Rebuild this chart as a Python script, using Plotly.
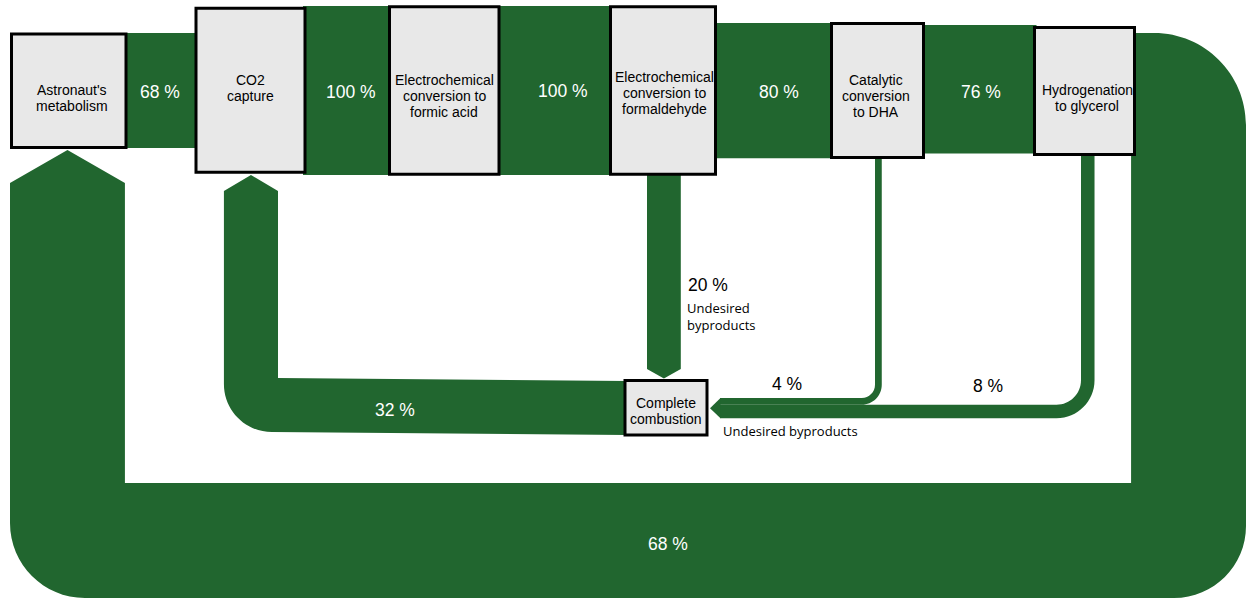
import plotly.graph_objects as go

# ---------------- data ----------------
node_labels = [
    ["Astronaut's", "metabolism"],
    ["CO2", "capture"],
    ["Electrochemical", "conversion to", "formic acid"],
    ["Electrochemical", "conversion to", "formaldehyde"],
    ["Catalytic", "conversion", "to DHA"],
    ["Hydrogenation", "to glycerol"],
    ["Complete", "combustion"],
]
main_chain_values = [68, 100, 100, 80, 76]   # astronaut->CO2, CO2->formic, formic->formaldehyde, formaldehyde->DHA, DHA->glycerol
return_value = 68                             # glycerol -> astronaut
byproduct_values = [20, 4, 8]                 # formaldehyde, DHA, glycerol -> combustion
recycle_value = 32                            # combustion -> CO2 capture
byproduct_label = "Undesired byproducts"

# ---------------- style / layout ----------------
W, H = 1247, 600
S = 1.69                      # px per percent
GREEN = "#21662F"
BOX_FILL = "#E8E8E8"
K = 0.5523

boxes = [
    (11.5, 34, 126, 147.5),
    (196, 8.3, 305, 172.3),
    (389.5, 6.7, 499, 174.3),
    (610.5, 6.7, 715.5, 174.3),
    (831.5, 23.5, 923.5, 157.5),
    (1034.5, 27.5, 1134.5, 154.5),
    (625, 380.5, 707, 435),
]
box_label_x = [72, 250, 444, 664, 876, 1087, 666]
box_label_first_y = [90, 80, 80, 77, 80, 90, 403]
LINE_GAP = 16

main_band_tops = [33, 6, 6, 23, 25]
main_label_pos = [(160, 92), (351, 92), (563, 91), (779, 92), (981, 92)]

shapes = []


def path_shape(d):
    return dict(type="path", path=d, xref="x", yref="y", fillcolor=GREEN,
                line=dict(width=0), layer="above")


def f(v):
    return f"{v:.2f}"

# main chain bands
for i, v in enumerate(main_chain_values):
    x0 = boxes[i][2] - 2
    x1 = boxes[i + 1][0] + 2
    y0 = main_band_tops[i]
    y1 = y0 + v * S
    shapes.append(path_shape(f"M{f(x0)},{f(y0)} L{f(x1)},{f(y0)} L{f(x1)},{f(y1)} L{f(x0)},{f(y1)} Z"))

# big return loop glycerol -> astronaut
w = return_value * S
top = 33
xo_r = 1246; xi_r = xo_r - w
yo_b = 598; yi_b = yo_b - w
xo_l = 10; xi_l = xo_l + w
R1, R2, R3 = 92, 72, 75
sx = 1128
tipx = (xo_l + xi_l) / 2
d = (f"M{f(sx)},{f(top)} L{f(xo_r-R1)},{f(top)} "
     f"C{f(xo_r-R1+K*R1)},{f(top)} {f(xo_r)},{f(top+R1-K*R1)} {f(xo_r)},{f(top+R1)} "
     f"L{f(xo_r)},{f(yo_b-R2)} "
     f"C{f(xo_r)},{f(yo_b-R2+K*R2)} {f(xo_r-R2+K*R2)},{f(yo_b)} {f(xo_r-R2)},{f(yo_b)} "
     f"L{f(xo_l+R3)},{f(yo_b)} "
     f"C{f(xo_l+R3-K*R3)},{f(yo_b)} {f(xo_l)},{f(yo_b-R3+K*R3)} {f(xo_l)},{f(yo_b-R3)} "
     f"L{f(xo_l)},183 L{f(tipx)},150 L{f(xi_l)},183 "
     f"L{f(xi_l)},{f(yi_b)} L{f(xi_r)},{f(yi_b)} L{f(xi_r)},156 L{f(sx)},156 Z")
shapes.append(path_shape(d))

# recycle 32 % combustion -> CO2 (slightly tilted, as in the reference)
w = recycle_value * S
yt_r = 381; yt_l = 378
x_i = 278; x_o = x_i - w
R = 48
tip = (x_o + x_i) / 2
d = (f"M627,{f(yt_r)} L{f(x_i)},{f(yt_l)} L{f(x_i)},191 L{f(tip)},175 L{f(x_o)},191 "
     f"L{f(x_o)},{f(yt_l+w-R)} C{f(x_o)},{f(yt_l+w-R+K*R)} {f(x_o+R-K*R)},{f(yt_l+w)} {f(x_o+R)},{f(yt_l+w)} "
     f"L627,{f(yt_r+w)} Z")
shapes.append(path_shape(d))

# 20 % formaldehyde -> combustion (vertical with arrow)
w = byproduct_values[0] * S
x0 = 647; x1 = x0 + w
d = (f"M{f(x0)},172 L{f(x1)},172 L{f(x1)},369 L{f((x0+x1)/2)},378.5 L{f(x0)},369 Z")
shapes.append(path_shape(d))

# 4 % and 8 % bands into combustion
arrow_x = 720
band_top = 398
side_x = [875, 1081]
side_top = [157, 153]
radii = [20, 38]
yt = band_top
for v, xl, ytop, R in zip(byproduct_values[1:], side_x, side_top, radii):
    w = v * S
    xr = xl + w
    yb = yt + w
    r = R - w
    d = (f"M{f(xl)},{f(ytop)} L{f(xl)},{f(yt-r)} "
         f"C{f(xl)},{f(yt-r+K*r)} {f(xl-r+K*r)},{f(yt)} {f(xl-r)},{f(yt)} "
         f"L{arrow_x},{f(yt)} L{arrow_x},{f(yb)} L{f(xr-R)},{f(yb)} "
         f"C{f(xr-R+K*R)},{f(yb)} {f(xr)},{f(yb-R+K*R)} {f(xr)},{f(yb-R)} "
         f"L{f(xr)},{f(ytop)} Z")
    shapes.append(path_shape(d))
    yt = yb
comb_w = sum(byproduct_values[1:]) * S
shapes.append(path_shape(
    f"M{arrow_x+0.5},{f(band_top)} L710,{f(band_top+comb_w/2)} L{arrow_x+0.5},{f(band_top+comb_w)} Z"))

# boxes on top
for (x0, y0, x1, y1) in boxes:
    shapes.append(dict(type="rect", xref="x", yref="y", x0=x0, y0=y0, x1=x1, y1=y1,
                       fillcolor=BOX_FILL, line=dict(color="black", width=3), layer="above"))

annotations = []
for lines, x, y0 in zip(node_labels, box_label_x, box_label_first_y):
    for j, line in enumerate(lines):
        annotations.append(dict(x=x, y=y0 + j * LINE_GAP, xref="x", yref="y", text=line, showarrow=False,
                                font=dict(family="Liberation Sans, Arial", size=14, color="black"),
                                xanchor="center", yanchor="middle", align="center"))

for v, (x, y) in zip(main_chain_values, main_label_pos):
    annotations.append(dict(x=x, y=y, xref="x", yref="y", text=f"{v} %", showarrow=False,
                            font=dict(family="Liberation Sans, Arial", size=17.5, color="white"),
                            xanchor="center", yanchor="middle"))

annotations.append(dict(x=668, y=544, xref="x", yref="y", text=f"{return_value} %", showarrow=False,
                        font=dict(family="Liberation Sans, Arial", size=17.5, color="white"),
                        xanchor="center", yanchor="middle"))
annotations.append(dict(x=395, y=410, xref="x", yref="y", text=f"{recycle_value} %", showarrow=False,
                        font=dict(family="Liberation Sans, Arial", size=17.5, color="white"),
                        xanchor="center", yanchor="middle"))

# byproduct labels
annotations.append(dict(x=686, y=285, xref="x", yref="y", text=f"{byproduct_values[0]} %", showarrow=False,
                        font=dict(family="Liberation Sans, Arial", size=17.5, color="black"),
                        xanchor="left", yanchor="middle"))
annotations.append(dict(x=685, y=316, xref="x", yref="y", text=byproduct_label.replace(" ", "<br>"),
                        showarrow=False, align="left",
                        font=dict(family="Open Sans", size=13, color="black"),
                        xanchor="left", yanchor="middle"))
annotations.append(dict(x=787, y=384, xref="x", yref="y", text=f"{byproduct_values[1]} %", showarrow=False,
                        font=dict(family="Liberation Sans, Arial", size=17.5, color="black"),
                        xanchor="center", yanchor="middle"))
annotations.append(dict(x=988, y=386, xref="x", yref="y", text=f"{byproduct_values[2]} %", showarrow=False,
                        font=dict(family="Liberation Sans, Arial", size=17.5, color="black"),
                        xanchor="center", yanchor="middle"))
annotations.append(dict(x=790, y=431, xref="x", yref="y", text=byproduct_label, showarrow=False,
                        font=dict(family="Open Sans", size=13, color="black"),
                        xanchor="center", yanchor="middle"))

fig = go.Figure()
fig.add_trace(go.Scatter(x=[0, W], y=[0, H], mode="markers", marker=dict(opacity=0),
                         hoverinfo="skip", showlegend=False))
fig.update_layout(
    width=W, height=H, autosize=False,
    margin=dict(l=0, r=0, t=0, b=0),
    paper_bgcolor="white", plot_bgcolor="white",
    xaxis=dict(range=[0, W], visible=False, fixedrange=True),
    yaxis=dict(range=[H, 0], visible=False, fixedrange=True),
    shapes=shapes, annotations=annotations, showlegend=False,
)
fig.write_html("out.html", config={"displayModeBar": False},
               post_script="document.body.style.margin='0';document.body.style.overflow='hidden';")
